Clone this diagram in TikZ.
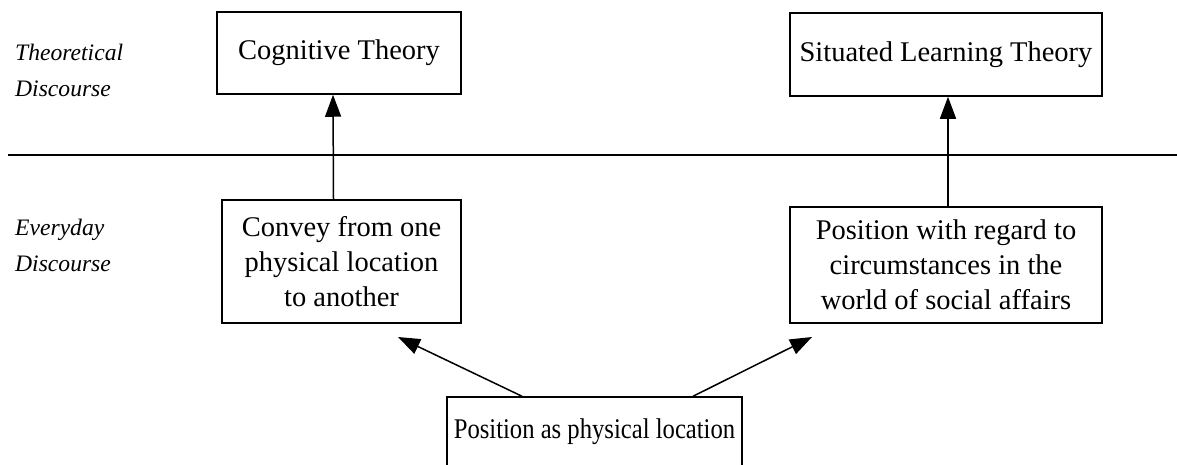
\documentclass[tikz,border=0pt]{standalone}
\usepackage{fontspec}
\setmainfont{Liberation Serif}
\usetikzlibrary{arrows.meta}
\begin{document}
\begin{tikzpicture}[x=1pt,y=-1pt,
  box/.style={draw, line width=1.5pt, inner sep=0pt, align=center,
    font=\fontsize{28.5}{35}\selectfont},
  side/.style={inner sep=0pt, anchor=west, align=left,
    font=\fontsize{23.6}{36}\selectfont\itshape},
  arr/.style={line width=1.5pt, -{Triangle[length=22pt,width=16pt]}}]
\useasboundingbox (0,0) rectangle (1177,464);
\fill[white] (0,0) rectangle (1177,464);
% side labels
\node[side] (theo) at (15,70) {Theoretical\\Discourse};
\node[side] (every) at (15,245) {Everyday\\Discourse};
% divider
\coordinate (dl) at (8,155);
\coordinate (dr) at (1177,155);
\draw[line width=1.5pt] (dl) -- (dr);
% boxes
\node[box, minimum width=244pt, minimum height=82pt] (cog) at (339,53) {Cognitive Theory};
\node[box, minimum width=312pt, minimum height=83pt] (sit) at (946,54.5) {Situated Learning Theory};
\node[box, minimum width=239pt, minimum height=123pt] (conv) at (341.5,261.5) {Convey from one\\physical location\\to another};
\node[box, minimum width=312pt, minimum height=116pt] (pos) at (946,265) {Position with regard to\\circumstances in the\\world of social affairs};
\node[box, minimum width=295pt, minimum height=70pt] (phys) at (594.5,432) {\scalebox{0.865}[1]{Position as physical location}};
% arrows
\draw[arr] ([xshift=-8pt]conv.north) -- ([xshift=-6pt]cog.south);
\draw[arr] ([xshift=2pt]pos.north) -- ([xshift=2pt]sit.south);
\coordinate (lt) at (398,337);
\coordinate (rt) at (812,337);
\draw[arr] ([xshift=-72.5pt]phys.north) -- (lt);
\draw[arr] ([xshift=98.5pt]phys.north) -- (rt);
\end{tikzpicture}
\end{document}
